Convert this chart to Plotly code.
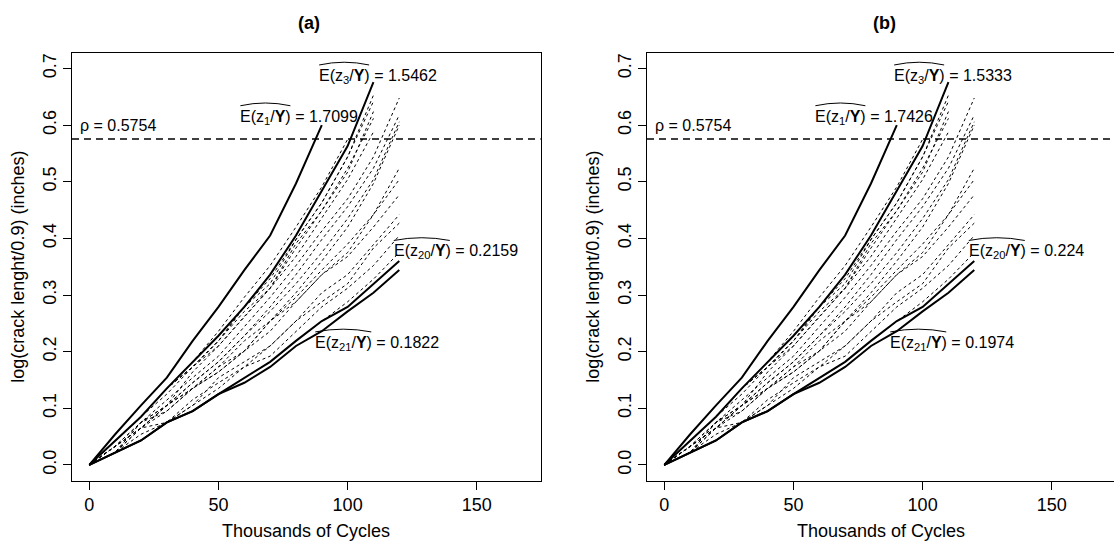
import plotly.graph_objects as go

# ---------------- data ----------------
cycles = [0, 10, 20, 30, 40, 50, 60, 70, 80, 90, 100, 110, 120]  # thousands of cycles

# log(crack length / 0.9) for the 21 paths
paths = [
    [0, .054, .105, .154, .219, .279, .344, .405, .497, .600],
    [0, .043, .085, .135, .182, .236, .296, .352, .420, .491, .575],
    [0, .043, .085, .135, .182, .228, .279, .336, .405, .484, .563, .676],
    [0, .043, .085, .135, .173, .219, .279, .329, .398, .463, .544, .653],
    [0, .043, .085, .135, .173, .219, .279, .320, .398, .463, .544, .642],
    [0, .043, .085, .135, .173, .219, .271, .312, .391, .449, .517, .624],
    [0, .043, .085, .125, .173, .210, .262, .312, .383, .449, .524, .612],
    [0, .033, .075, .105, .164, .210, .262, .312, .368, .435, .504, .588],
    [0, .022, .075, .115, .154, .192, .245, .296, .352, .413, .470, .544, .648],
    [0, .022, .065, .105, .145, .182, .228, .279, .336, .398, .456, .524, .618],
    [0, .033, .065, .105, .145, .182, .228, .271, .320, .375, .435, .504, .606],
    [0, .033, .075, .105, .135, .173, .201, .254, .304, .360, .420, .497, .600],
    [0, .022, .075, .095, .135, .164, .201, .236, .288, .336, .375, .442, .524],
    [0, .033, .065, .105, .135, .173, .219, .254, .288, .336, .368, .420, .477],
    [0, .022, .065, .095, .135, .164, .201, .254, .296, .344, .390, .442, .504],
    [0, .022, .054, .075, .105, .135, .173, .210, .254, .304, .336, .390, .442],
    [0, .033, .065, .075, .105, .154, .182, .210, .254, .288, .320, .383, .427],
    [0, .022, .043, .075, .115, .145, .173, .192, .236, .279, .312, .352, .405],
    [0, .022, .043, .075, .095, .125, .154, .182, .219, .254, .288, .328, .375],
    [0, .022, .043, .075, .095, .125, .154, .182, .219, .254, .279, .320, .360],
    [0, .022, .043, .075, .095, .125, .145, .173, .210, .236, .271, .304, .344],
]
highlighted = [1, 3, 20, 21]          # solid paths
rho = 0.5754

label_paths = [1, 3, 20, 21]
label_x = [57.7, 88.2, 117.1, 86.7]
label_y = [0.614, 0.686, 0.376, 0.2145]
estimates_a = ["1.7099", "1.5462", "0.2159", "0.1822"]
estimates_b = ["1.7426", "1.5333", "0.224", "0.1974"]

panel_titles = ["(a)", "(b)"]
x_ticks = [0, 50, 100, 150]
y_ticks = [0.0, 0.1, 0.2, 0.3, 0.4, 0.5, 0.6, 0.7]
y_ticktext = ["0.0", "0.1", "0.2", "0.3", "0.4", "0.5", "0.6", "0.7"]

# ---------------- layout geometry ----------------
W, H = 1114, 543
FONT = "Liberation Sans, Arial, Helvetica, sans-serif"
xr_a = [-6.72, 174.72]
xr_b = [-6.72, 174.1]
yr = [-0.028, 0.728]
dom_a = [72 / W, 540.6 / W]
dom_b = [647 / W, 1.0]
ydom = [(H - 480.7) / H, (H - 52.7) / H]
shift_px = [0, 575]

fig = go.Figure()

for p, (xa, ya) in enumerate([("x", "y"), ("x2", "y2")]):
    for i, ys in enumerate(paths, start=1):
        solid = i in highlighted
        fig.add_trace(go.Scatter(
            x=cycles[:len(ys)], y=ys, mode="lines", xaxis=xa, yaxis=ya,
            line=dict(color="black", width=2 if solid else 1,
                      dash="solid" if solid else "3px,3px"),
            showlegend=False, hoverinfo="skip"))

axis_common = dict(showgrid=False, zeroline=False, showline=True, linecolor="black",
                   linewidth=1, ticks="outside", ticklen=8, tickwidth=1,
                   tickcolor="black", tickfont=dict(family=FONT, size=18, color="black"))

fig.update_layout(
    width=W, height=H, autosize=False,
    margin=dict(l=0, r=0, t=0, b=0, pad=0),
    paper_bgcolor="white", plot_bgcolor="white",
    xaxis=dict(domain=dom_a, range=xr_a, tickvals=x_ticks, anchor="y", mirror=True, **axis_common),
    yaxis=dict(domain=ydom, range=yr, tickvals=y_ticks, ticktext=y_ticktext, tickangle=-90,
               anchor="x", mirror=True, **axis_common),
    xaxis2=dict(domain=dom_b, range=xr_b, tickvals=x_ticks, anchor="y2", mirror=True, **axis_common),
    yaxis2=dict(domain=ydom, range=yr, tickvals=y_ticks, ticktext=y_ticktext, tickangle=-90,
                anchor="x2", mirror=False, **axis_common),
)

annotations = []
shapes = []
for p, (xa, ya, ests) in enumerate([("x", "y", estimates_a), ("x2", "y2", estimates_b)]):
    xr = xr_a if p == 0 else xr_b
    dom = dom_a if p == 0 else dom_b
    pxx = (dom[1] - dom[0]) * W / (xr[1] - xr[0])
    pxy = (ydom[1] - ydom[0]) * H / (yr[1] - yr[0])
    off = shift_px[p]
    # threshold line
    shapes.append(dict(type="line", xref=f"{xa} domain", yref=ya, x0=0, x1=1, y0=rho, y1=rho,
                       line=dict(color="black", width=1.5, dash="7px,5px")))
    annotations.append(dict(xref=xa, yref=ya, x=-4.4, y=0.6, xanchor="left", yanchor="middle",
                            text=f"\u03c1 = {rho}", showarrow=False,
                            font=dict(family=FONT, size=16, color="black")))
    for k, idx in enumerate(label_paths):
        lx, ly = label_x[k], label_y[k]
        annotations.append(dict(
            xref=xa, yref=ya, x=lx, y=ly, xanchor="left", yanchor="middle", showarrow=False,
            text=f"E(z<sub>{idx}</sub>/<b>Y</b>) = {ests[k]}",
            font=dict(family=FONT, size=16, color="black")))
        w = 52 if idx < 10 else 58
        x0 = lx + 2 / pxx
        x1 = lx + w / pxx
        xm = (x0 + x1) / 2
        yb = ly + 11.5 / pxy
        yc = ly + 17.0 / pxy
        shapes.append(dict(type="path", xref=xa, yref=ya,
                           path=f"M {x0},{yb} Q {xm},{yc} {x1},{yb}",
                           line=dict(color="black", width=1)))
    # titles
    annotations.append(dict(xref="paper", yref="paper", x=(309 + off) / W, y=1 - 23 / H,
                            xanchor="center", yanchor="middle", showarrow=False,
                            text=f"<b>{panel_titles[p]}</b>",
                            font=dict(family=FONT, size=18, color="black")))
    annotations.append(dict(xref="paper", yref="paper", x=(306 + off) / W, y=1 - 531 / H,
                            xanchor="center", yanchor="middle", showarrow=False,
                            text="Thousands of Cycles",
                            font=dict(family=FONT, size=18, color="black")))
    annotations.append(dict(xref="paper", yref="paper", x=(18 + off) / W, y=1 - 266.7 / H,
                            xanchor="center", yanchor="middle", showarrow=False, textangle=-90,
                            text="log(crack lenght/0.9) (inches)",
                            font=dict(family=FONT, size=18, color="black")))

fig.update_layout(annotations=annotations, shapes=shapes)
fig.write_html("out.html")
